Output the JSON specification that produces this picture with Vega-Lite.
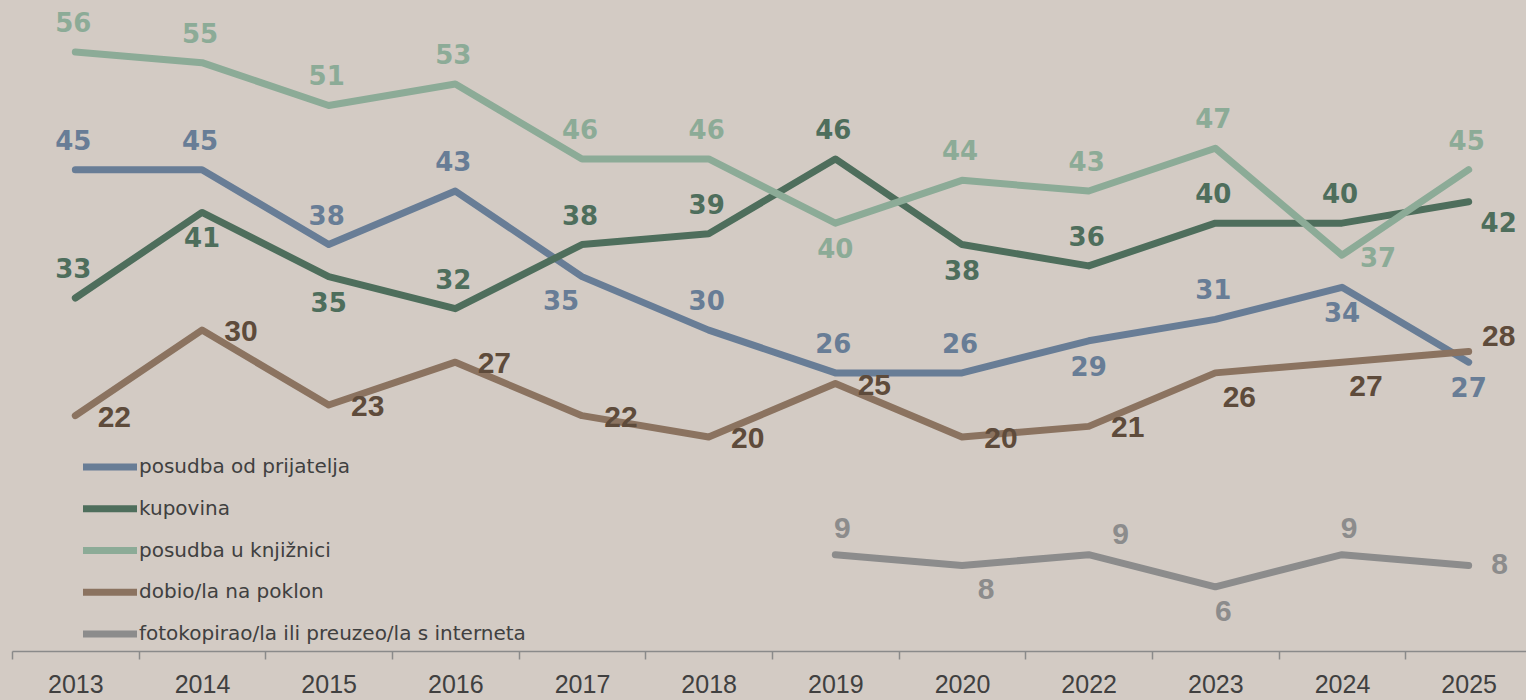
{
  "$schema": "https://vega.github.io/schema/vega-lite/v6.json",
  "width": 1514,
  "height": 651,
  "autosize": {"type": "none"},
  "padding": {"left": 12, "top": 0, "right": 0, "bottom": 49},
  "background": "#d3cbc4",
  "config": {"view": {"stroke": null}},
  "data": {
    "values": [
      {"g": "posudba od prijatelja", "year": "2013", "v": 45},
      {"g": "posudba od prijatelja", "year": "2014", "v": 45},
      {"g": "posudba od prijatelja", "year": "2015", "v": 38},
      {"g": "posudba od prijatelja", "year": "2016", "v": 43},
      {"g": "posudba od prijatelja", "year": "2017", "v": 35},
      {"g": "posudba od prijatelja", "year": "2018", "v": 30},
      {"g": "posudba od prijatelja", "year": "2019", "v": 26},
      {"g": "posudba od prijatelja", "year": "2020", "v": 26},
      {"g": "posudba od prijatelja", "year": "2022", "v": 29},
      {"g": "posudba od prijatelja", "year": "2023", "v": 31},
      {"g": "posudba od prijatelja", "year": "2024", "v": 34},
      {"g": "posudba od prijatelja", "year": "2025", "v": 27},
      {"g": "kupovina", "year": "2013", "v": 33},
      {"g": "kupovina", "year": "2014", "v": 41},
      {"g": "kupovina", "year": "2015", "v": 35},
      {"g": "kupovina", "year": "2016", "v": 32},
      {"g": "kupovina", "year": "2017", "v": 38},
      {"g": "kupovina", "year": "2018", "v": 39},
      {"g": "kupovina", "year": "2019", "v": 46},
      {"g": "kupovina", "year": "2020", "v": 38},
      {"g": "kupovina", "year": "2022", "v": 36},
      {"g": "kupovina", "year": "2023", "v": 40},
      {"g": "kupovina", "year": "2024", "v": 40},
      {"g": "kupovina", "year": "2025", "v": 42},
      {"g": "posudba u knjižnici", "year": "2013", "v": 56},
      {"g": "posudba u knjižnici", "year": "2014", "v": 55},
      {"g": "posudba u knjižnici", "year": "2015", "v": 51},
      {"g": "posudba u knjižnici", "year": "2016", "v": 53},
      {"g": "posudba u knjižnici", "year": "2017", "v": 46},
      {"g": "posudba u knjižnici", "year": "2018", "v": 46},
      {"g": "posudba u knjižnici", "year": "2019", "v": 40},
      {"g": "posudba u knjižnici", "year": "2020", "v": 44},
      {"g": "posudba u knjižnici", "year": "2022", "v": 43},
      {"g": "posudba u knjižnici", "year": "2023", "v": 47},
      {"g": "posudba u knjižnici", "year": "2024", "v": 37},
      {"g": "posudba u knjižnici", "year": "2025", "v": 45},
      {"g": "dobio/la na poklon", "year": "2013", "v": 22},
      {"g": "dobio/la na poklon", "year": "2014", "v": 30},
      {"g": "dobio/la na poklon", "year": "2015", "v": 23},
      {"g": "dobio/la na poklon", "year": "2016", "v": 27},
      {"g": "dobio/la na poklon", "year": "2017", "v": 22},
      {"g": "dobio/la na poklon", "year": "2018", "v": 20},
      {"g": "dobio/la na poklon", "year": "2019", "v": 25},
      {"g": "dobio/la na poklon", "year": "2020", "v": 20},
      {"g": "dobio/la na poklon", "year": "2022", "v": 21},
      {"g": "dobio/la na poklon", "year": "2023", "v": 26},
      {"g": "dobio/la na poklon", "year": "2024", "v": 27},
      {"g": "dobio/la na poklon", "year": "2025", "v": 28},
      {"g": "fotokopirao/la ili preuzeo/la s interneta", "year": "2019", "v": 9},
      {"g": "fotokopirao/la ili preuzeo/la s interneta", "year": "2020", "v": 8},
      {"g": "fotokopirao/la ili preuzeo/la s interneta", "year": "2022", "v": 9},
      {"g": "fotokopirao/la ili preuzeo/la s interneta", "year": "2023", "v": 6},
      {"g": "fotokopirao/la ili preuzeo/la s interneta", "year": "2024", "v": 9},
      {"g": "fotokopirao/la ili preuzeo/la s interneta", "year": "2025", "v": 8}
    ]
  },
  "encoding": {
    "x": {
      "field": "year", "type": "ordinal", "bandPosition": 0.5,
      "scale": {"type": "band", "range": [0, 1520], "paddingInner": 0, "paddingOuter": 0},
      "axis": {
        "title": null, "tickBand": "extent", "grid": false, "labelAngle": 0,
        "domainColor": "#8a8a8a", "domainWidth": 1.5,
        "tickColor": "#8a8a8a", "tickWidth": 1.5, "tickSize": 8,
        "labelFont": "Liberation Sans", "labelFontSize": 25, "labelColor": "#404040", "labelPadding": 13
      }
    },
    "y": {"field": "v", "type": "quantitative", "scale": {"domain": [0, 60.86], "nice": false, "zero": true}, "axis": null}
  },
  "layer": [
    {
      "mark": {"type": "line", "strokeWidth": 7, "strokeCap": "round", "strokeJoin": "round"},
      "encoding": {
        "color": {
          "field": "g", "type": "nominal",
          "scale": {
            "domain": ["posudba od prijatelja", "kupovina", "posudba u knjižnici", "dobio/la na poklon", "fotokopirao/la ili preuzeo/la s interneta"],
            "range": ["#687d96", "#4e6e5c", "#8cab97", "#8b7360", "#8c8c8c"]
          },
          "legend": {
            "title": null, "orient": "none", "legendX": 81, "legendY": 450,
            "symbolType": "M-2,0H2", "symbolSize": 729, "symbolStrokeWidth": 7,
            "labelFont": "DejaVu Sans", "labelFontSize": 20, "labelColor": "#404040",
            "labelOffset": 12, "rowPadding": 10.75, "padding": 0, "labelLimit": 700
          }
        }
      }
    },
    {
      "transform": [{"filter": "indexof(['posudba od prijatelja|2013','posudba od prijatelja|2014','posudba od prijatelja|2015','posudba od prijatelja|2016','posudba od prijatelja|2018','posudba od prijatelja|2019','posudba od prijatelja|2020','posudba od prijatelja|2023','kupovina|2013','kupovina|2016','kupovina|2017','kupovina|2018','kupovina|2019','kupovina|2022','kupovina|2023','kupovina|2024','posudba u knjižnici|2013','posudba u knjižnici|2014','posudba u knjižnici|2015','posudba u knjižnici|2016','posudba u knjižnici|2017','posudba u knjižnici|2018','posudba u knjižnici|2020','posudba u knjižnici|2022','posudba u knjižnici|2023','posudba u knjižnici|2025'], datum.g + '|' + datum.year) >= 0"}],
      "mark": {"type": "text", "font": "DejaVu Sans", "fontWeight": "bold", "fontSize": 26, "align": "center", "baseline": "middle", "dx": -2, "dy": -28},
      "encoding": {
        "text": {"field": "v"},
        "fill": {"field": "g", "type": "nominal", "legend": null,
          "scale": {"domain": ["posudba od prijatelja", "kupovina", "posudba u knjižnici", "dobio/la na poklon", "fotokopirao/la ili preuzeo/la s interneta"],
                    "range": ["#687d96", "#4e6e5c", "#8cab97", "#5e4b3b", "#8c8c8c"]}}
      }
    },
    {
      "transform": [{"filter": "indexof(['posudba od prijatelja|2022','posudba od prijatelja|2024','posudba od prijatelja|2025','kupovina|2014','kupovina|2015','kupovina|2020','posudba u knjižnici|2019'], datum.g + '|' + datum.year) >= 0"}],
      "mark": {"type": "text", "font": "DejaVu Sans", "fontWeight": "bold", "fontSize": 26, "align": "center", "baseline": "middle", "dx": 0, "dy": 27},
      "encoding": {"text": {"field": "v"}, "fill": {"field": "g", "type": "nominal", "legend": null}}
    },
    {
      "transform": [{"filter": "datum.g == 'posudba od prijatelja' && datum.year == '2017'"}],
      "mark": {"type": "text", "font": "DejaVu Sans", "fontWeight": "bold", "fontSize": 26, "align": "center", "baseline": "middle", "dx": -21, "dy": 25},
      "encoding": {"text": {"field": "v"}, "fill": {"field": "g", "type": "nominal", "legend": null}}
    },
    {
      "transform": [{"filter": "datum.g == 'posudba u knjižnici' && datum.year == '2024'"}],
      "mark": {"type": "text", "font": "DejaVu Sans", "fontWeight": "bold", "fontSize": 26, "align": "center", "baseline": "middle", "dx": 36, "dy": 4},
      "encoding": {"text": {"field": "v"}, "fill": {"field": "g", "type": "nominal", "legend": null}}
    },
    {
      "transform": [{"filter": "datum.g == 'kupovina' && datum.year == '2025'"}],
      "mark": {"type": "text", "font": "DejaVu Sans", "fontWeight": "bold", "fontSize": 26, "align": "center", "baseline": "middle", "dx": 30, "dy": 22},
      "encoding": {"text": {"field": "v"}, "fill": {"field": "g", "type": "nominal", "legend": null}}
    },
    {
      "transform": [{"filter": "datum.g == 'dobio/la na poklon' && indexof(['2013','2014','2015','2016','2017','2018','2019','2020','2022'], datum.year) >= 0"}],
      "mark": {"type": "text", "font": "Liberation Sans", "fontWeight": "bold", "fontSize": 30, "align": "center", "baseline": "middle", "dx": 39, "dy": 2},
      "encoding": {"text": {"field": "v"}, "fill": {"field": "g", "type": "nominal", "legend": null}}
    },
    {
      "transform": [{"filter": "datum.g == 'dobio/la na poklon' && datum.year == '2025'"}],
      "mark": {"type": "text", "font": "Liberation Sans", "fontWeight": "bold", "fontSize": 30, "align": "center", "baseline": "middle", "dx": 30, "dy": -14},
      "encoding": {"text": {"field": "v"}, "fill": {"field": "g", "type": "nominal", "legend": null}}
    },
    {
      "transform": [{"filter": "datum.g == 'fotokopirao/la ili preuzeo/la s interneta' && datum.year == '2025'"}],
      "mark": {"type": "text", "font": "Liberation Sans", "fontWeight": "bold", "fontSize": 30, "align": "center", "baseline": "middle", "dx": 31, "dy": 0},
      "encoding": {"text": {"field": "v"}, "fill": {"field": "g", "type": "nominal", "legend": null}}
    },
    {
      "transform": [{"filter": "indexof(['dobio/la na poklon|2023','dobio/la na poklon|2024','fotokopirao/la ili preuzeo/la s interneta|2020'], datum.g + '|' + datum.year) >= 0"}],
      "mark": {"type": "text", "font": "Liberation Sans", "fontWeight": "bold", "fontSize": 30, "align": "center", "baseline": "middle", "dx": 24, "dy": 25},
      "encoding": {"text": {"field": "v"}, "fill": {"field": "g", "type": "nominal", "legend": null}}
    },
    {
      "transform": [{"filter": "datum.g == 'fotokopirao/la ili preuzeo/la s interneta' && datum.year == '2023'"}],
      "mark": {"type": "text", "font": "Liberation Sans", "fontWeight": "bold", "fontSize": 30, "align": "center", "baseline": "middle", "dx": 8, "dy": 25},
      "encoding": {"text": {"field": "v"}, "fill": {"field": "g", "type": "nominal", "legend": null}}
    },
    {
      "transform": [{"filter": "datum.g == 'fotokopirao/la ili preuzeo/la s interneta' && (datum.year == '2019' || datum.year == '2024')"}],
      "mark": {"type": "text", "font": "Liberation Sans", "fontWeight": "bold", "fontSize": 30, "align": "center", "baseline": "middle", "dx": 7, "dy": -26},
      "encoding": {"text": {"field": "v"}, "fill": {"field": "g", "type": "nominal", "legend": null}}
    },
    {
      "transform": [{"filter": "datum.g == 'fotokopirao/la ili preuzeo/la s interneta' && datum.year == '2022'"}],
      "mark": {"type": "text", "font": "Liberation Sans", "fontWeight": "bold", "fontSize": 30, "align": "center", "baseline": "middle", "dx": 32, "dy": -20},
      "encoding": {"text": {"field": "v"}, "fill": {"field": "g", "type": "nominal", "legend": null}}
    }
  ]
}
